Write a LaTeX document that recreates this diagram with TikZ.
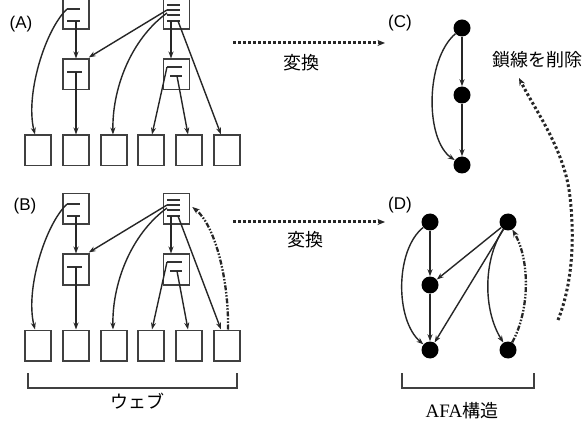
\documentclass[tikz,border=0pt]{standalone}
\usepackage{fontspec}
\setmainfont{Liberation Serif}
\newfontfamily\cjk{Noto Sans CJK JP}
\newfontfamily\lab{Liberation Sans}
\usetikzlibrary{arrows.meta}
\begin{document}
\begin{tikzpicture}[x=1pt,y=-1pt,
 webbox/.style={draw=black!75, line width=1.5pt, minimum width=26pt, minimum height=30.5pt, inner sep=0pt},
 barline/.style={line width=1.3pt, black!80},
 edge/.style={line width=1.4pt, black!85, -{Stealth[length=7pt,width=5pt]}},
 chainedge/.style={line width=2.3pt, black!85, dash pattern=on 5pt off 1.7pt on 1.5pt off 1.7pt on 1.5pt off 1.7pt, -{Stealth[length=7.5pt,width=5.5pt]}},
 dotedge/.style={line width=3pt, black!85, dash pattern=on 2.6pt off 2.4pt, -{Stealth[length=7.5pt,width=6pt]}},
 vtx/.style={circle, fill=black, minimum size=17pt, inner sep=0pt},
 lbl/.style={font=\lab\fontsize{17}{17}\selectfont, inner sep=0pt},
 jtxt/.style={font=\cjk\fontsize{18}{18}\selectfont, inner sep=0pt},
 bracket/.style={line width=1.4pt, black!75}]
\useasboundingbox (0,0) rectangle (588,435);
\fill[white] (0,0) rectangle (588,435);

% ---------- web (A) and (B)
\foreach \o/\s in {0/A,195/B}{
\begin{scope}[yshift=-\o pt]
 \node[webbox] (tl\s) at (76,14) {};
 \node[webbox] (tr\s) at (176.5,14) {};
 \node[webbox] (ml\s) at (76,74.5) {};
 \node[webbox] (mr\s) at (176.5,74.5) {};
 \foreach \i/\x in {1/38,2/76,3/114,4/151,5/189,6/227}
   \node[webbox] (b\i\s) at (\x,150.5) {};
 % bars
 \draw[barline] (67,9) -- (80,9);
 \draw[barline] (67,21) -- (80,21);
 \draw[barline] (67,72) -- (82,72);
 \draw[barline] (167,5) -- (180,5);
 \draw[barline] (167,10) -- (180,10);
 \draw[barline] (167,15) -- (180,15);
 \draw[barline] (167,21) -- (180,21);
 \draw[barline] (167,67) -- (182,67);
 \draw[barline] (170,76) -- (182,76);
 \coordinate (ptla\s) at (67,9);
 \coordinate (ptlb\s) at (76,21);
 \coordinate (pml\s) at (76,72);
 \coordinate (ptra\s) at (167,10);
 \coordinate (ptrb\s) at (167,13);
 \coordinate (ptrc\s) at (171,21);
 \coordinate (ptrd\s) at (178,21);
 \coordinate (pmra\s) at (167,67);
 \coordinate (pmrb\s) at (177,76);
 % edges
 \draw[edge] (ptla\s) .. controls (45,30) and (25,95) .. ([xshift=-3pt]b1\s.north);
 \draw[edge] (ptlb\s) -- (ml\s.north);
 \draw[edge] (pml\s) -- (b2\s.north);
 \draw[edge] (ptra\s) -- ([xshift=-1pt,yshift=1pt]ml\s.north east);
 \draw[edge] (ptrb\s) .. controls (130,40) and (112,90) .. ([xshift=-1pt]b3\s.north);
 \draw[edge] (ptrc\s) -- ([xshift=-5.5pt]mr\s.north);
 \draw[edge] (ptrd\s) -- ([xshift=-6pt]b6\s.north);
 \draw[edge] (pmra\s) -- ([xshift=1pt]b4\s.north);
 \draw[edge] (pmrb\s) -- ([xshift=-1pt]b5\s.north);
\end{scope}
}
\draw[chainedge] ([xshift=1pt]b6B.north) .. controls (229,280) and (215,225) .. ([xshift=2pt,yshift=2pt]trB.east);

\node[lbl] (la) at (21,24) {(A)};
\node[lbl] (lb) at (25,206) {(B)};

% brackets
\draw[bracket] (28,373) -- (28,388) -- (237,388) -- (237,373);
\node[jtxt] (web) at (137,401) {ウェブ};
\draw[bracket] (402,373) -- (402,388) -- (534,388) -- (534,373);
\node[jtxt] (afa) at (462,411) {{\rmfamily\fontsize{19}{19}\selectfont AFA}構造};

% ---------- transformation arrows
\coordinate (t1s) at (233,43);
\coordinate (t1e) at (385,43);
\draw[dotedge] (t1s) -- (t1e);
\node[jtxt] (h1) at (301,63) {変換};
\coordinate (t2s) at (233,222);
\coordinate (t2e) at (385,222);
\draw[dotedge] (t2s) -- (t2e);
\node[jtxt] (h2) at (305,240) {変換};

% ---------- (C)
\node[lbl] (lc) at (400,23) {(C)};
\node[vtx] (c1) at (462,28) {};
\node[vtx] (c2) at (462,95) {};
\node[vtx] (c3) at (462,165) {};
\draw[edge] (c1) -- (c2);
\draw[edge] (c2) -- (c3);
\draw[edge] (c1) .. controls (425,60) and (425,140) .. (c3);

% ---------- (D)
\node[lbl] (ld) at (400,205) {(D)};
\node[vtx] (d1) at (430,222) {};
\node[vtx] (d2) at (508,222) {};
\node[vtx] (d3) at (430,285) {};
\node[vtx] (d4) at (430,350) {};
\node[vtx] (d5) at (508,350) {};
\draw[edge] (d1) -- (d3);
\draw[edge] (d3) -- (d4);
\draw[edge] (d1) .. controls (395,250) and (395,320) .. (d4);
\draw[edge] (d2) -- (d3);
\draw[edge] (d2) -- (d4);
\draw[edge] (d2) .. controls (483,260) and (483,310) .. (d5);
\draw[chainedge] (d5) .. controls (530,310) and (530,260) .. (d2);

% ---------- remove chain
\coordinate (rs) at (558,320);
\coordinate (rm) at (570,197);
\coordinate (re) at (519,78);
\draw[dotedge] (rs) .. controls (572,285) and (575,240) .. (rm) .. controls (565,150) and (535,110) .. (re);
\node[jtxt] (del) at (537,60) {鎖線を削除};
\end{tikzpicture}
\end{document}
